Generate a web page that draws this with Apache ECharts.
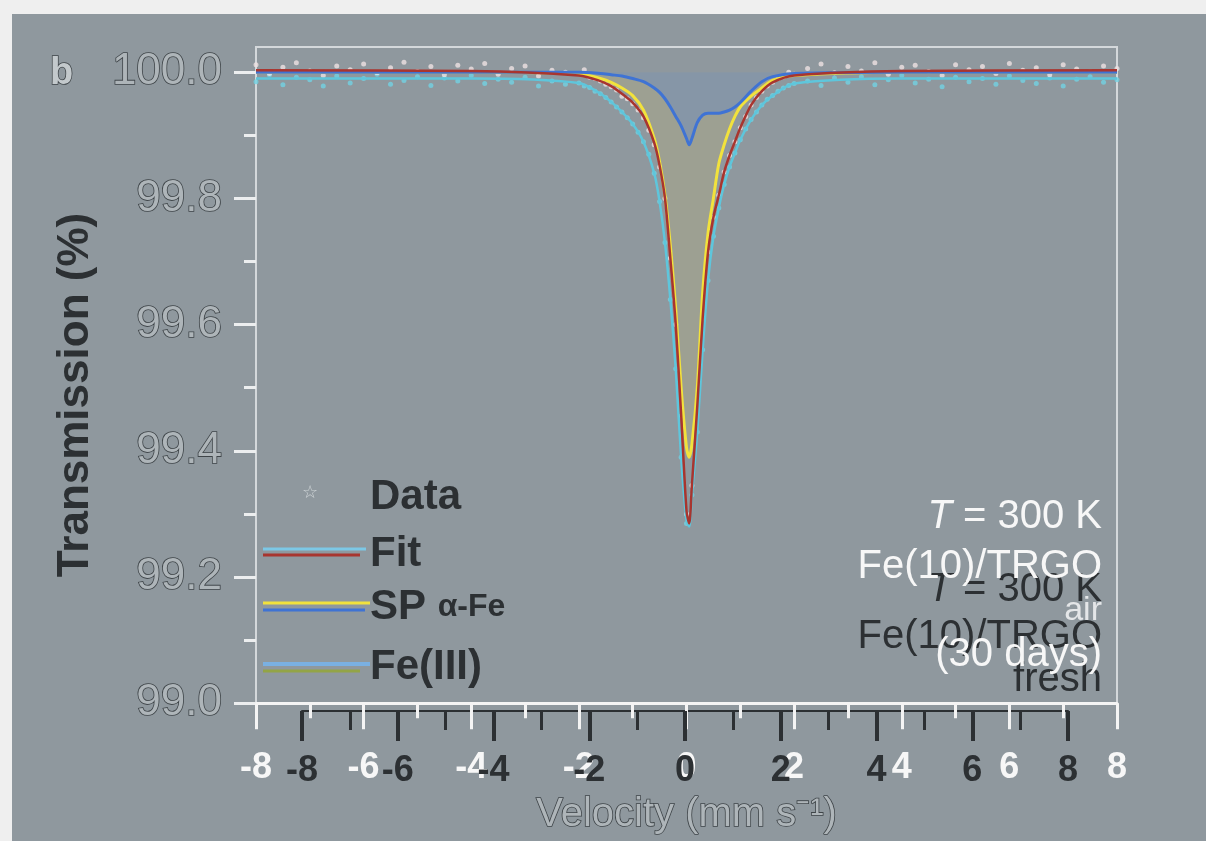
<!DOCTYPE html>
<html>
<head>
<meta charset="utf-8">
<script src="https://cdn.jsdelivr.net/npm/echarts@6/dist/echarts.min.js"></script>
<style>
html,body{margin:0;padding:0;background:#efefef;}
#chart{width:1206px;height:841px;}
</style>
</head>
<body>
<div id="chart"></div>
<script>
// Mössbauer spectrum, Fe(10)/TRGO, T = 300 K (two overlaid panels: fresh / 30 days in air)
var FONT = "'Liberation Sans', Arial, sans-serif";

// velocities of the measured points (mm/s)
var V_DATA = [-8,-7.75,-7.5,-7.25,-7,-6.75,-6.5,-6.25,-6,-5.75,-5.5,-5.25,-5,-4.75,-4.5,-4.25,-4,-3.75,-3.5,-3.25,-3,-2.75,-2.5,-2.25,
  -2,-1.9,-1.8,-1.7,-1.6,-1.5,-1.4,-1.3,-1.2,-1.1,-1,-0.9,-0.8,-0.7,-0.6,-0.5,-0.4,-0.3,-0.2,-0.1,0,0.1,0.2,0.3,0.4,0.5,0.6,0.7,0.8,0.9,1,1.1,1.2,1.3,1.4,1.5,1.6,1.7,1.8,1.9,2,
  2.25,2.5,2.75,3,3.25,3.5,3.75,4,4.25,4.5,4.75,5,5.25,5.5,5.75,6,6.25,6.5,6.75,7,7.25,7.5,7.75,8];

// transmission (%) - pale points
var DATA_A = [100.012,99.998,100.008,100.015,100.002,99.995,100.010,100.004,100.013,99.999,100.007,100.016,100.001,100.009,99.996,100.011,100.005,100.014,99.997,100.006,100.010,99.994,100.003,100.000,
  99.998,100.004,99.992,99.990,99.986,99.981,99.977,99.972,99.962,99.958,99.950,99.940,99.928,99.908,99.885,99.850,99.800,99.705,99.600,99.455,99.300,99.345,99.470,99.610,99.715,99.770,99.805,99.842,99.868,99.890,99.912,99.930,99.948,99.960,99.970,99.978,99.984,99.990,99.993,100.000,99.997,
  100.006,100.013,99.999,100.009,100.002,100.015,99.997,100.008,100.011,100.001,99.995,100.012,100.004,100.009,99.998,100.014,100.003,100.007,99.996,100.012,100.005,100.001,100.010,100.006];

// transmission (%) - cyan points
var DATA_B = [99.985,99.996,99.980,99.992,99.988,99.978,99.994,99.983,99.990,99.997,99.981,99.987,99.993,99.979,99.991,99.986,99.995,99.982,99.989,99.984,99.992,99.978,99.986,99.981,
  99.983,99.978,99.976,99.970,99.966,99.960,99.953,99.945,99.937,99.928,99.918,99.905,99.890,99.870,99.840,99.795,99.730,99.640,99.530,99.390,99.285,99.330,99.430,99.560,99.670,99.740,99.785,99.822,99.850,99.872,99.893,99.910,99.925,99.937,99.948,99.957,99.963,99.970,99.975,99.979,99.982,
  99.986,99.979,99.991,99.984,99.993,99.980,99.988,99.995,99.983,99.989,99.977,99.992,99.985,99.990,99.981,99.994,99.987,99.982,99.991,99.978,99.989,99.993,99.984,99.988];

// velocities of the fitted curves
var V_LINE = [-8,-4,-2,-1.6,-1.4,-1.2,-1,-0.8,-0.6,-0.5,-0.4,-0.3,-0.2,-0.1,0,0.05,0.1,0.2,0.3,0.4,0.5,0.6,0.7,0.8,0.9,1,1.2,1.4,1.6,2,4,8];
var FIT_RED  = [100.003,100.002,99.995,99.986,99.978,99.966,99.952,99.930,99.888,99.852,99.800,99.705,99.600,99.458,99.305,99.285,99.345,99.470,99.610,99.715,99.770,99.805,99.842,99.868,99.890,99.912,99.948,99.970,99.984,99.995,100.002,100.003];
var FIT_CYAN = [99.990,99.990,99.983,99.966,99.953,99.937,99.918,99.890,99.840,99.795,99.730,99.640,99.530,99.390,99.290,99.280,99.330,99.430,99.560,99.670,99.740,99.785,99.822,99.850,99.872,99.893,99.925,99.948,99.963,99.982,99.990,99.990];
var SP_FE    = [100.0,100.0,99.998,99.990,99.984,99.975,99.963,99.940,99.895,99.858,99.805,99.725,99.625,99.500,99.405,99.390,99.410,99.500,99.650,99.745,99.800,99.855,99.885,99.910,99.930,99.945,99.962,99.975,99.987,99.995,100.0,100.0];
var FE_III   = [100.0,100.0,100.0,99.998,99.996,99.994,99.990,99.985,99.975,99.968,99.958,99.945,99.930,99.915,99.895,99.885,99.895,99.920,99.932,99.935,99.935,99.935,99.937,99.940,99.945,99.952,99.970,99.985,99.993,99.998,100.0,100.0];

var Y_TICKS = [99.0,99.2,99.4,99.6,99.8,100.0];
var Y_MINOR = [99.1,99.3,99.5,99.7,99.9];

function zip(xs, ys) {
  var out = [];
  for (var i = 0; i < xs.length; i++) out.push([xs[i], ys[i]]);
  return out;
}

// raised-letter look of the grey labels
var emboss = {
  color: '#aeb5b9',
  textBorderColor: '#3f4549',
  textBorderWidth: 1.6,
  textShadowColor: 'rgba(255,255,255,0.9)',
  textShadowOffsetX: 1.5,
  textShadowOffsetY: 1.5,
  textShadowBlur: 0
};
var darkText = {fill: '#2c3033', shadowColor: 'rgba(255,255,255,0.9)', shadowOffsetX: 2, shadowOffsetY: 1};

var chart = echarts.init(document.getElementById('chart'));

var option = {
  animation: false,
  backgroundColor: '#efefef',
  grid: [
    {left: 256, right: 89, top: 47, bottom: 133, show: true, borderColor: '#d4d8db', borderWidth: 2},
    {left: 302, right: 138, top: 47, bottom: 133}
  ],
  xAxis: [
    {
      type: 'value', gridIndex: 0, min: -8, max: 8, interval: 2,
      axisLine: {onZero: false, lineStyle: {color: '#f4f4f4', width: 3}},
      axisTick: {inside: false, length: 26, lineStyle: {color: '#f4f4f4', width: 3}},
      minorTick: {show: true, splitNumber: 2, length: 15, lineStyle: {color: '#f4f4f4', width: 3}},
      splitLine: {show: false},
      axisLabel: {margin: 47, fontFamily: FONT, fontSize: 36, fontWeight: 'bold', color: '#f7f7f7',
        textShadowColor: 'rgba(40,40,40,0.6)', textShadowOffsetX: 1, textShadowOffsetY: 1},
      name: 'Velocity (mm s\u207B\u00B9)', nameLocation: 'middle', nameGap: 92,
      nameTextStyle: Object.assign({fontFamily: FONT, fontSize: 40}, emboss)
    },
    {
      type: 'value', gridIndex: 1, min: -8, max: 8, interval: 2, offset: 3,
      axisLine: {onZero: false, lineStyle: {color: '#2c3033', width: 2}},
      axisTick: {length: 30, lineStyle: {color: '#2c3033', width: 4}},
      minorTick: {show: true, splitNumber: 2, length: 19, lineStyle: {color: '#2c3033', width: 3}},
      splitLine: {show: false},
      axisLabel: {margin: 42, fontFamily: FONT, fontSize: 36, fontWeight: 'bold', color: '#2c3033'}
    }
  ],
  yAxis: [
    {
      type: 'value', gridIndex: 0, position: 'left', min: 99.0, max: 100.04,
      axisLine: {onZero: false, lineStyle: {color: '#d4d8db', width: 2}},
      axisTick: {customValues: Y_TICKS, length: 22, lineStyle: {color: '#eceeef', width: 3}},
      splitLine: {show: false},
      axisLabel: Object.assign({customValues: Y_TICKS, margin: 34, fontFamily: FONT, fontSize: 44,
        formatter: function (v) { return v.toFixed(1); }}, emboss)
    },
    {
      type: 'value', gridIndex: 0, position: 'left', min: 99.0, max: 100.04,
      axisLine: {show: false, onZero: false},
      axisTick: {customValues: Y_MINOR, length: 12, lineStyle: {color: '#eceeef', width: 3}},
      axisLabel: {show: false},
      splitLine: {show: false}
    },
    {type: 'value', gridIndex: 1, min: 99.0, max: 100.04, show: false, axisLine: {onZero: false}}
  ],
  series: [
    {
      name: 'SP α-Fe', type: 'line', xAxisIndex: 0, yAxisIndex: 0, smooth: 0.3, showSymbol: false,
      data: zip(V_LINE, SP_FE),
      lineStyle: {color: '#f2e23c', width: 3},
      areaStyle: {origin: 100, color: 'rgba(200,185,110,0.35)'}
    },
    {
      name: 'Fe(III)', type: 'line', xAxisIndex: 0, yAxisIndex: 0, smooth: 0.3, showSymbol: false,
      data: zip(V_LINE, FE_III),
      lineStyle: {color: '#3f73d4', width: 3},
      areaStyle: {origin: 100, color: 'rgba(100,135,200,0.55)'}
    },
    {
      name: 'Data B', type: 'scatter', xAxisIndex: 0, yAxisIndex: 0, symbol: 'circle', symbolSize: 5,
      data: zip(V_DATA, DATA_B),
      itemStyle: {color: '#72d2e2'}
    },
    {
      name: 'Data', type: 'scatter', xAxisIndex: 0, yAxisIndex: 0, symbol: 'circle', symbolSize: 5,
      data: zip(V_DATA, DATA_A),
      itemStyle: {color: '#eee2e2'}
    },
    {
      name: 'Fit cyan', type: 'line', xAxisIndex: 0, yAxisIndex: 0, smooth: 0.3, showSymbol: false,
      data: zip(V_LINE, FIT_CYAN),
      lineStyle: {color: '#5ec6dc', width: 2.5}
    },
    {
      name: 'Fit', type: 'line', xAxisIndex: 0, yAxisIndex: 0, smooth: 0.3, showSymbol: false,
      data: zip(V_LINE, FIT_RED),
      lineStyle: {color: '#a8352f', width: 2.5}
    }
  ],
  graphic: [
    {type: 'rect', z: -10, shape: {x: 12, y: 14, width: 1194, height: 827}, style: {fill: '#8f989e'}},
    {type: 'text', x: 50, y: 55, style: {text: 'b', font: 'bold 38px ' + FONT, fill: '#c3c9cc',
      stroke: '#3f4549', lineWidth: 1.5, shadowColor: 'rgba(255,255,255,0.9)', shadowOffsetX: 1.5, shadowOffsetY: 1.5}},
    // y axis title
    {type: 'text', x: 76, y: 395, rotation: Math.PI / 2, style: Object.assign({text: 'Transmission (%)',
      font: 'bold 44px ' + FONT, align: 'center', verticalAlign: 'middle'}, darkText)},
    // legend
    {type: 'text', x: 302, y: 484, style: {text: '\u2606', font: '18px ' + FONT, fill: '#cfd4d7'}},
    {type: 'line', shape: {x1: 263, y1: 549, x2: 366, y2: 549}, style: {stroke: '#7cc8e6', lineWidth: 3}},
    {type: 'line', shape: {x1: 263, y1: 555, x2: 360, y2: 555}, style: {stroke: '#a8352f', lineWidth: 3}},
    {type: 'line', shape: {x1: 263, y1: 603, x2: 370, y2: 603}, style: {stroke: '#f2e23c', lineWidth: 3}},
    {type: 'line', shape: {x1: 263, y1: 610, x2: 365, y2: 610}, style: {stroke: '#3f73d4', lineWidth: 3}},
    {type: 'line', shape: {x1: 263, y1: 664, x2: 370, y2: 664}, style: {stroke: '#7ab0e2', lineWidth: 4}},
    {type: 'line', shape: {x1: 263, y1: 671, x2: 360, y2: 671}, style: {stroke: '#93a446', lineWidth: 3}},
    {type: 'text', x: 370, y: 476, style: Object.assign({text: 'Data', font: 'bold 42px ' + FONT}, darkText)},
    {type: 'text', x: 370, y: 533, style: Object.assign({text: 'Fit', font: 'bold 42px ' + FONT}, darkText)},
    {type: 'text', x: 370, y: 586, style: Object.assign({text: 'SP {s|\u03B1-Fe}', font: 'bold 42px ' + FONT,
      rich: {s: {font: 'bold 32px ' + FONT, fill: '#2c3033'}}}, darkText)},
    {type: 'text', x: 370, y: 646, style: Object.assign({text: 'Fe(III)', font: 'bold 42px ' + FONT}, darkText)},
    // sample labels, dark (fresh)
    {type: 'text', x: 1102, y: 570, style: {text: '{i|T} = 300 K', align: 'right', font: '40px ' + FONT, fill: '#2c3033',
      rich: {i: {font: 'italic 40px ' + FONT, fill: '#2c3033'}}}},
    {type: 'text', x: 1102, y: 617, style: {text: 'Fe(10)/TRGO', align: 'right', font: '40px ' + FONT, fill: '#2c3033'}},
    {type: 'text', x: 1102, y: 660, style: {text: 'fresh', align: 'right', font: '40px ' + FONT, fill: '#2c3033'}},
    // sample labels, white (30 days)
    {type: 'text', x: 1102, y: 497, style: {text: '{i|T} = 300 K', align: 'right', font: '40px ' + FONT, fill: '#f7f7f7',
      rich: {i: {font: 'italic 40px ' + FONT, fill: '#f7f7f7'}}}},
    {type: 'text', x: 1102, y: 547, style: {text: 'Fe(10)/TRGO', align: 'right', font: '40px ' + FONT, fill: '#f7f7f7'}},
    {type: 'text', x: 1102, y: 594, style: {text: 'air', align: 'right', font: '34px ' + FONT, fill: '#e4e6e8'}},
    {type: 'text', x: 1102, y: 635, style: {text: '(30 days)', align: 'right', font: '40px ' + FONT, fill: '#f7f7f7'}}
  ]
};

chart.setOption(option);
</script>
</body>
</html>
